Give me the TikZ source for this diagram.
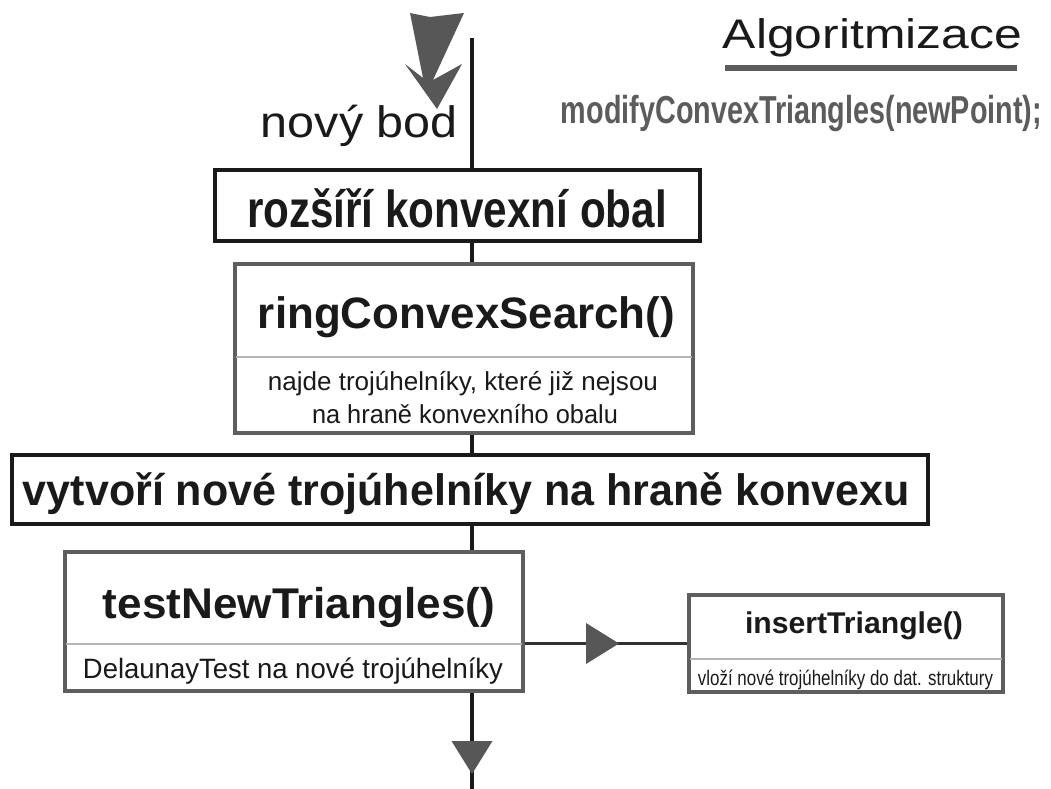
\documentclass[tikz,border=0pt]{standalone}
\usepackage{fontspec}
\setmainfont{Liberation Sans}
\usetikzlibrary{decorations.markings}

% one drawing unit = one pixel of the sheet
\newdimen\pxu \pxu=0.75pt
% stretch or squeeze a text to a given width (in pixels), height kept
\newcommand{\fitw}[2]{\resizebox{#1\pxu}{\height}{#2}}
\newcommand{\fsz}[1]{\fontsize{#1}{#1}\selectfont}

\definecolor{inkblack}{HTML}{1A1A1A}
\definecolor{boxgray}{HTML}{5E5E5E}
\definecolor{tipgray}{HTML}{575757}
\definecolor{divgray}{HTML}{B4B4B4}
\definecolor{headgray}{HTML}{5C5C5C}

\begin{document}
\begin{tikzpicture}[x=0.75pt,y=-0.75pt,
  flowline/.style={draw=inkblack, line width=2.6pt},
  sideline/.style={draw=inkblack!90, line width=2.4pt},
  blackbox/.style={rectangle, draw=inkblack, line width=3pt, fill=white, inner sep=0pt},
  graybox/.style={rectangle, draw=boxgray, line width=3pt, fill=white, inner sep=0pt},
  divider/.style={draw=divgray, line width=0.8pt},
  lbl/.style={inner sep=0pt, anchor=base, text=inkblack},
  midtri/.style={postaction={decorate}, decoration={markings,
      mark=at position #1 with {\fill[tipgray] (0,0) -- (-33,20.5) -- (-33,-20.5) -- cycle;}}}
]
\useasboundingbox[fill=white] (0,0) rectangle (1051,789);

% ends of the main flow line
\coordinate (top) at (472,38);
\coordinate (bot) at (472,789);

% boxes of the flow
\node[blackbox, minimum width=363.75pt, minimum height=53.25pt] (b1) at (457.5,205.5) {};
\node[graybox,  minimum width=343.5pt,  minimum height=126.75pt] (b2) at (464,348.5) {};
\node[blackbox, minimum width=687pt,    minimum height=51.75pt] (b3) at (470,489.5) {};
\node[graybox,  minimum width=343.5pt,  minimum height=104.25pt] (b4) at (294,621.5) {};
\node[graybox,  minimum width=235.5pt,  minimum height=72.75pt] (b5) at (846,643.5) {};

% separators between name and description
\draw[divider] (236,357) -- (692,357);
\draw[divider] (66,644) -- (522,644);
\draw[divider] (690,659) -- (1002,659);

% connectors
\draw[flowline] (top) -- (b1.north -| top);
\draw[flowline] (b1.south -| top) -- (b2.north -| top);
\draw[flowline] (b2.south -| top) -- (b3.north -| top);
\draw[flowline] (b3.south -| top) -- (b4.north -| top);
\draw[flowline, midtri=60.75pt] (b4.south -| top) -- (bot);
\draw[sideline, midtri=70.5pt] (b4.east |- b5.west) -- (b5.west);

% incoming point arrow
\fill[tipgray] (410,13) -- (430,17) -- (464,13) -- (433,80) -- (462,64)
  -- (437,109) -- (405,64) -- (423,78) -- cycle;

% heading
\node[lbl] (title) at (872.5,48) {\fitw{299}{\fsz{31pt}Algoritmizace}};
\fill[headgray] (725,65) rectangle (1017,71);
\node[lbl, text=headgray] (func) at (801.5,123)
  {\fitw{481}{\fsz{29.25pt}\bfseries modifyConvexTriangles(newPoint);}};

% texts
\node[lbl] (newpt) at (359.5,137) {\fitw{197}{\fsz{33pt}nový bod}};
\node[lbl] (t1) at (457,227) {\fitw{420}{\fsz{39pt}\bfseries rozšíří konvexní obal}};
\node[lbl] (t2) at (466.5,328) {\fitw{417}{\fsz{33pt}\bfseries ringConvexSearch()}};
\node[lbl] (d2a) at (463,390) {\fitw{390}{\fsz{19.5pt}najde trojúhelníky, které již nejsou}};
\node[lbl] (d2b) at (465,423) {\fitw{306}{\fsz{19.5pt}na hraně konvexního obalu}};
\node[lbl] (t3) at (466.5,505) {\fitw{887}{\fsz{33pt}\bfseries vytvoří nové trojúhelníky na hraně konvexu}};
\node[lbl] (t4) at (299,618) {\fitw{392}{\fsz{32.25pt}\bfseries testNewTriangles()}};
\node[lbl] (d4) at (293,678) {\fitw{420}{\fsz{21pt}DelaunayTest na nové trojúhelníky}};
\node[lbl] (t5) at (854,633) {\fitw{218}{\fsz{22.5pt}\bfseries insertTriangle()}};
\node[lbl] (d5) at (845.5,685) {\fitw{295}{\fsz{15.75pt}vloží nové trojúhelníky do dat. struktury}};
\end{tikzpicture}
\end{document}
